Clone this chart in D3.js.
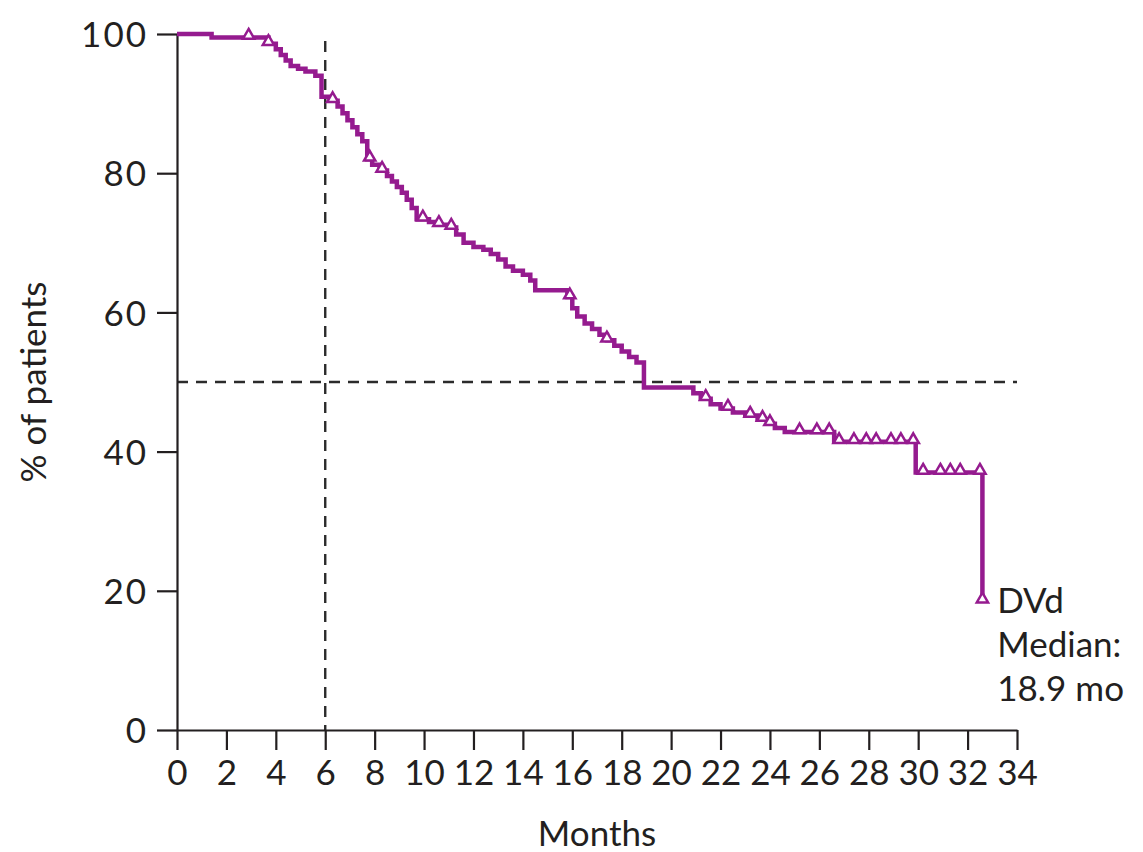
<!DOCTYPE html>
<html>
<head>
<meta charset="utf-8">
<script src="https://cdn.jsdelivr.net/npm/d3@7"></script>
<style>
  body { margin: 0; background: #fff; }
  svg { display: block; }
  text { font-family: Lato, "Open Sans", sans-serif; fill: #231f20; }
</style>
</head>
<body>
<svg id="chart" width="1143" height="852"></svg>
<script>
// Kaplan-Meier steps: time (months) at which the curve moves to the value
var stepTimes = [0, 1.4, 3.7, 4.0, 4.2, 4.4, 4.6, 4.9, 5.2, 5.6, 5.85, 6.3, 6.5, 6.7, 6.9, 7.1,
    7.3, 7.5, 7.7, 7.9, 8.2, 8.5, 8.7, 8.9, 9.1, 9.3, 9.5, 9.7, 10.2, 10.6, 11.0, 11.3, 11.6,
    12.0, 12.4, 12.7, 13.0, 13.3, 13.6, 14.0, 14.3, 14.5, 15.8, 16.0, 16.2, 16.5, 16.8, 17.1,
    17.4, 17.7, 18.0, 18.3, 18.6, 18.9, 20.9, 21.2, 21.6, 22.0, 22.5, 23.0, 23.5, 23.9, 24.2,
    24.6, 26.6, 29.9, 32.6];
var stepValues = [100, 99.5, 98.6, 97.8, 97.0, 96.2, 95.4, 95.0, 94.6, 94.0, 91.0, 90.4, 89.6, 88.6, 87.6, 86.6,
    85.6, 84.6, 82.0, 81.2, 80.4, 79.6, 78.8, 78.0, 77.2, 76.2, 75.0, 73.4, 73.0, 72.6, 72.2, 71.2, 70.0,
    69.4, 69.0, 68.4, 67.6, 66.6, 66.0, 65.4, 64.6, 63.2, 62.2, 60.6, 59.4, 58.4, 57.6, 56.8,
    56.0, 55.2, 54.4, 53.6, 52.8, 49.2, 48.4, 47.6, 46.8, 46.2, 45.6, 45.2, 44.6, 44.0, 43.4,
    42.8, 41.4, 37.0, 18.5];
// censored patients (open triangles)
var censorTimes = [2.9, 3.7, 6.3, 7.8, 8.3, 9.95, 10.6, 11.1, 15.9, 17.4, 21.4, 22.3, 23.2, 23.7,
    24.0, 25.2, 25.9, 26.4, 26.8, 27.4, 27.9, 28.3, 28.9, 29.3, 29.8, 30.2, 30.9, 31.3, 31.7, 32.5, 32.6];
var xTicks = d3.range(0, 35, 2);
var yTicks = [0, 20, 40, 60, 80, 100];
var landmarkTime = 6;
var seriesName = "DVd";
var medianLabel = ["Median:", "18.9 mo"];

var purple = "#951b8f";
var svg = d3.select("#chart");

var x = d3.scaleLinear().domain([0, 34]).range([177, 1017]);
var y = d3.scaleLinear().domain([0, 100]).range([730, 34]);

function survivalAt(t) {
    var v = stepValues[0];
    for (var i = 0; i < stepTimes.length; i++) {
        if (stepTimes[i] <= t) v = stepValues[i];
    }
    return v;
}

// reference lines
svg.append("line")
    .attr("x1", x(landmarkTime)).attr("x2", x(landmarkTime))
    .attr("y1", y(99)).attr("y2", y(0))
    .attr("stroke", "#2b2b2b").attr("stroke-width", 2.4)
    .attr("stroke-dasharray", "11,8");
svg.append("line")
    .attr("x1", x(0)).attr("x2", x(34))
    .attr("y1", y(50)).attr("y2", y(50))
    .attr("stroke", "#2b2b2b").attr("stroke-width", 2.4)
    .attr("stroke-dasharray", "11,8");

// axes
var xAxis = svg.append("g")
    .attr("transform", "translate(0," + y(0) + ")")
    .call(d3.axisBottom(x).tickValues(xTicks).tickSize(20).tickSizeOuter(0).tickPadding(10));
var yAxis = svg.append("g")
    .attr("transform", "translate(" + x(0) + ",0)")
    .call(d3.axisLeft(y).tickValues(yTicks).tickSize(20).tickSizeOuter(0).tickPadding(9));

[xAxis, yAxis].forEach(function (g) {
    g.select(".domain").attr("stroke", "#231f20").attr("stroke-width", 2.2);
    g.selectAll(".tick line").attr("stroke", "#231f20").attr("stroke-width", 2.2);
    g.selectAll(".tick text").style("font-size", "35px").attr("fill", "#231f20");
});
yAxis.selectAll(".tick text").attr("dy", "0.36em").style("letter-spacing", "2px");

// axis titles
svg.append("text")
    .attr("x", x(17)).attr("y", 846)
    .attr("text-anchor", "middle")
    .style("font-size", "35px")
    .text("Months");
svg.append("text")
    .attr("transform", "translate(46," + y(50) + ") rotate(-90)")
    .attr("text-anchor", "middle")
    .style("font-size", "35px")
    .text("% of patients");

// KM curve
var pts = stepTimes.map(function (t, i) { return [t, stepValues[i]]; });
var line = d3.line()
    .x(function (d) { return x(d[0]); })
    .y(function (d) { return y(d[1]); })
    .curve(d3.curveStepAfter);

svg.append("path")
    .attr("d", line(pts))
    .attr("fill", "none")
    .attr("stroke", purple)
    .attr("stroke-width", 4.5);

// censor marks
var tri = d3.symbol().type(d3.symbolTriangle).size(55);
svg.selectAll(".censor")
    .data(censorTimes)
    .enter()
    .append("path")
    .attr("class", "censor")
    .attr("d", tri)
    .attr("transform", function (d) {
        return "translate(" + x(d) + "," + (y(survivalAt(d)) - 2) + ")";
    })
    .attr("fill", "#fff")
    .attr("stroke", purple)
    .attr("stroke-width", 2.5);

// annotation
var ann = svg.append("text")
    .attr("x", x(33.2)).attr("y", 613)
    .style("font-size", "35px");
ann.append("tspan").attr("x", x(33.2)).attr("dy", 0).text(seriesName);
medianLabel.forEach(function (s) {
    ann.append("tspan").attr("x", x(33.2)).attr("dy", 44).text(s);
});
</script>
</body>
</html>
